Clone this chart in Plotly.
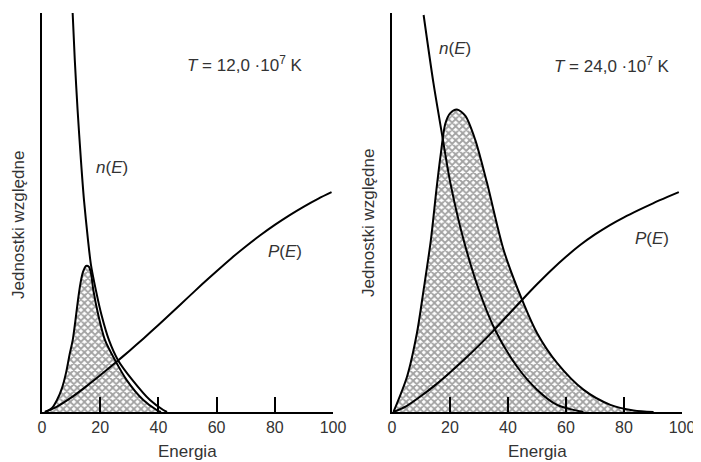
import plotly.graph_objects as go

# ---------------- data (relative units, y axis 0-100) ----------------
# Left panel: T = 12,0 ·10^7 K
left_n_E = [10.5, 11.27, 12.23, 13.37, 14.43, 15.81, 16.84, 18.49, 20.45, 23.02, 26.12,
            31.10, 37.11, 41.68, 42.96]
left_n_y = [100.5, 88.2, 75.7, 63.2, 53.1, 43.1, 36.8, 30.6, 24.3, 18.0, 13.0,
            8.0, 3.0, 0.5, 0.0]

left_peak_E = [1.03, 3.44, 5.15, 6.87, 8.25, 9.45, 10.55, 11.51, 12.37, 13.23, 14.09, 15.12,
               16.1, 16.84, 17.63, 19.35, 21.65, 25.09, 29.11, 34.81, 39.42, 40.89]
left_peak_y = [0.0, 1.0, 3.0, 6.0, 9.8, 14.3, 18.0, 23.1, 28.1, 32.3, 35.1, 36.6,
               36.4, 34.8, 30.6, 24.3, 18.0, 13.0, 8.0, 3.0, 0.5, 0.0]

left_P_E = [1.0, 5, 10, 15, 20, 25, 30, 35, 40, 45, 50, 55, 60, 65, 70, 75, 80, 85, 90, 95, 99.5]
left_P_y = [0.0, 1.3, 3.6, 6.3, 9.2, 12.2, 15.3, 18.5, 21.8, 25.2, 28.6, 32.0, 35.3,
            38.5, 41.5, 44.3, 46.9, 49.3, 51.5, 53.5, 55.1]

# Right panel: T = 24,0 ·10^7 K
right_n_E = [10.9, 14.3, 17.2, 20.1, 24.7, 30.4, 35.6, 43.1, 50.0, 56.9, 66.0]
right_n_y = [99.5, 82.4, 69.8, 57.5, 43.1, 29.7, 20.5, 11.4, 5.6, 1.8, 0.0]

right_peak_E = [0.5, 5.2, 8.6, 10.9, 13.4, 15.3, 16.7, 18.4, 20.1, 22.4, 25.3, 28.7, 32.8,
                38.5, 44.8, 50.0, 56.9, 66.0, 75.3, 83.3, 90.2]
right_peak_y = [0.0, 8.9, 19.8, 30.6, 43.1, 55.6, 64.0, 72.3, 74.9, 75.8, 74.2, 68.2, 57.3,
                40.6, 28.2, 19.8, 12.3, 5.6, 1.8, 0.4, 0.0]

right_P_E = [0.5, 5, 10, 15, 20, 25, 30, 35, 40, 45, 50, 55, 60, 65, 70, 75, 80, 85, 90, 95, 98.9]
right_P_y = [0.0, 1.5, 4.0, 6.8, 9.9, 13.2, 16.7, 20.4, 24.3, 28.2, 32.0, 35.6, 38.9,
             41.9, 44.5, 46.8, 48.8, 50.6, 52.3, 53.9, 55.1]

tick_vals = [0, 20, 40, 60, 80, 100]
tick_text = ["0", "20", "40", "60", "80", "100"]

x_title = "Energia"
y_title = "Jednostki względne"
left_T = "<i>T</i> = 12,0 ·10<sup>7</sup> K"
right_T = "<i>T</i> = 24,0 ·10<sup>7</sup> K"
n_label = "<i>n</i>(<i>E</i>)"
P_label = "<i>P</i>(<i>E</i>)"

# ---------------- figure ----------------
W, H = 701, 462
OFF = 8  # page body margin offset
FONT = "Liberation Sans, Arial, sans-serif"
TXT = "#333333"
LINE = dict(color="black", width=2, shape="spline", smoothing=0.8)
pattern = dict(shape="x", size=5, solidity=0.6, fgcolor="#444444", bgcolor="white")


def px_x(p):
    return (p - OFF) / W


def px_y(p):
    return (H - (p - OFF)) / H


fig = go.Figure()


def add_panel(xa, ya, nE, ny, pkE, pky, PE, Py):
    fig.add_trace(go.Scatter(x=pkE, y=pky, mode="lines", line=LINE,
                             fill="tozeroy", fillcolor="rgba(0,0,0,0)",
                             fillpattern=pattern, xaxis=xa, yaxis=ya,
                             showlegend=False, hoverinfo="skip"))
    fig.add_trace(go.Scatter(x=nE, y=ny, mode="lines", line=LINE,
                             xaxis=xa, yaxis=ya, showlegend=False, hoverinfo="skip"))
    fig.add_trace(go.Scatter(x=PE, y=Py, mode="lines", line=LINE,
                             xaxis=xa, yaxis=ya, showlegend=False, hoverinfo="skip"))


add_panel("x", "y", left_n_E, left_n_y, left_peak_E, left_peak_y, left_P_E, left_P_y)
add_panel("x2", "y2", right_n_E, right_n_y, right_peak_E, right_peak_y, right_P_E, right_P_y)

ydom = [px_y(412), px_y(13)]
xaxis_common = dict(range=[0, 100], showgrid=False, zeroline=False, showline=True,
                    linecolor="black", linewidth=2, ticks="inside", ticklen=15,
                    tickwidth=2, tickcolor="black", tickvals=tick_vals, ticktext=tick_text,
                    tickfont=dict(family=FONT, size=16, color=TXT), automargin=False)
yaxis_common = dict(range=[0, 100], showgrid=False, zeroline=False, showline=True,
                    linecolor="black", linewidth=2, showticklabels=False, ticks="",
                    domain=ydom, automargin=False)

fig.update_layout(
    width=W, height=H,
    margin=dict(l=0, r=0, t=0, b=0),
    paper_bgcolor="white", plot_bgcolor="white",
    xaxis=dict(domain=[px_x(42), px_x(333)], anchor="y", **xaxis_common),
    yaxis=dict(anchor="x", **yaxis_common),
    xaxis2=dict(domain=[px_x(392), px_x(682)], anchor="y2", **xaxis_common),
    yaxis2=dict(anchor="x2", **yaxis_common),
    font=dict(family=FONT, color=TXT),
)

ann_font = dict(family=FONT, size=17, color=TXT)
title_font = dict(family=FONT, size=17, color=TXT)
annotations = [
    dict(x=69.8, y=87.2, xref="x", yref="y", text=left_T, font=ann_font),
    dict(x=24.2, y=61.4, xref="x", yref="y", text=n_label, font=ann_font),
    dict(x=83.5, y=40.3, xref="x", yref="y", text=P_label, font=ann_font),
    dict(x=75.8, y=87.0, xref="x2", yref="y2", text=right_T, font=ann_font),
    dict(x=21.7, y=91.1, xref="x2", yref="y2", text=n_label, font=ann_font),
    dict(x=89.6, y=43.6, xref="x2", yref="y2", text=P_label, font=ann_font),
    dict(x=50, y=px_y(451), xref="x", yref="paper", text=x_title, font=title_font),
    dict(x=50, y=px_y(451), xref="x2", yref="paper", text=x_title, font=title_font),
    dict(x=px_x(18), y=px_y(225), xref="paper", yref="paper", text=y_title,
         textangle=-90, font=title_font),
    dict(x=px_x(369), y=px_y(223), xref="paper", yref="paper", text=y_title,
         textangle=-90, font=title_font),
]
for a in annotations:
    a.update(showarrow=False, xanchor="center", yanchor="middle")
fig.update_layout(annotations=annotations)

fig.write_html("out.html")
